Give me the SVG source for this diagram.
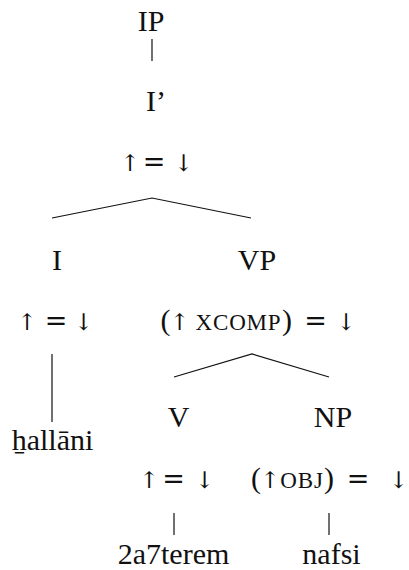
<svg xmlns="http://www.w3.org/2000/svg" width="409" height="570" viewBox="0 0 409 570">
<style>
.t{font-family:'Liberation Serif','DejaVu Serif',serif;font-size:30px;fill:#111;}
.a{font-family:'DejaVu Serif','DejaVu Sans',serif;font-size:23px;}
.q{font-family:'DejaVu Serif','DejaVu Sans',serif;font-size:27px;}
.m{text-anchor:middle;}
.sc{font-size:23px;letter-spacing:0.8px;}
line,polyline{stroke:#111;stroke-width:1.2;fill:none;}
</style>
<rect width="409" height="570" fill="#fff"/>
<g id="connectors">
<line x1="152" y1="39" x2="152" y2="61"/>
<polyline points="52,218 152,198 251,218"/>
<line x1="52" y1="354" x2="52" y2="422"/>
<polyline points="174,377 252,354 329,377"/>
<line x1="174" y1="513" x2="174" y2="535"/>
<line x1="329" y1="513" x2="329" y2="535"/>
</g>
<g id="IP"><text class="t m" x="151" y="31">IP</text></g>
<g id="Ibar">
<text class="t m" x="156" y="111">I’</text>
<text class="t m" y="171"><tspan class="a" x="130">↑</tspan><tspan class="q" x="154">=</tspan><tspan class="a" x="183.5">↓</tspan></text>
</g>
<g id="I">
<text class="t m" x="57" y="270">I</text>
<text class="t m" y="330"><tspan class="a" x="27">↑</tspan><tspan class="q" x="56">=</tspan><tspan class="a" x="83.5">↓</tspan></text>
</g>
<g id="VP">
<text class="t m" x="257" y="270">VP</text>
<text class="t m" y="330"><tspan x="165.5">(</tspan><tspan class="a" x="179.5">↑</tspan><tspan class="sc" x="238.5">XCOMP</tspan><tspan x="287">)</tspan><tspan class="q" x="315.5">=</tspan><tspan class="a" x="346">↓</tspan></text>
</g>
<g id="hallani"><text class="t m" x="52.5" y="450">ẖallāni</text></g>
<g id="V">
<text class="t m" x="178.5" y="427">V</text>
<text class="t m" y="488"><tspan class="a" x="149">↑</tspan><tspan class="q" x="173.5">=</tspan><tspan class="a" x="204.5">↓</tspan></text>
</g>
<g id="NP">
<text class="t m" x="333" y="427">NP</text>
<text class="t m" y="488"><tspan x="256">(</tspan><tspan class="a" x="270">↑</tspan><tspan class="sc" x="302">OBJ</tspan><tspan x="329">)</tspan><tspan class="q" x="358">=</tspan><tspan class="a" x="398.5">↓</tspan></text>
</g>
<g id="a7terem"><text class="t m" x="173.5" y="564">2a7terem</text></g>
<g id="nafsi"><text class="t m" x="331.5" y="564">nafsi</text></g>
</svg>
